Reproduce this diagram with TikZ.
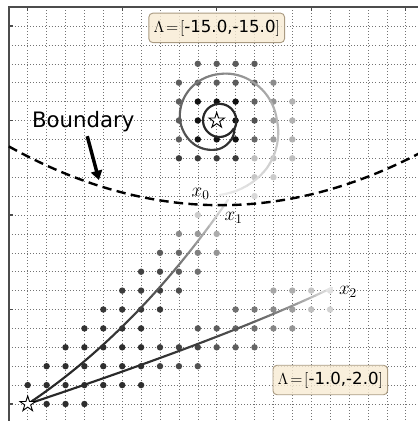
\documentclass[tikz,border=0pt]{standalone}
\usepackage{fontspec}
\newfontfamily\dvs{DejaVu Sans}
\usetikzlibrary{shapes.geometric,arrows.meta,calc}
\begin{document}
\begin{tikzpicture}[x=0.5cm,y=0.5cm,
  gridline/.style={black!55, line width=0.35pt, dash pattern=on 0.45pt off 1.85pt},
  spine/.style={black!70, line width=1.1pt},
  tickm/.style={black!70, line width=0.8pt},
  trail/.style={line width=1.6pt, line cap=round},
  starm/.style={star, star points=5, star point ratio=2.6, minimum size=0.43cm, inner sep=0pt, draw=black, fill=white, line width=0.7pt},
  lambox/.style={draw={rgb,255:red,170;green,155;blue,130}, fill={rgb,255:red,248;green,236;blue,212}, fill opacity=0.8, text opacity=1, rounded corners=3pt, line width=0.7pt, inner xsep=3.5pt, minimum height=0.78cm, font=\fontsize{12.5}{14}\selectfont},
  boundary/.style={black, line width=1.8pt, dash pattern=on 7pt off 4pt},
  xlab/.style={font=\fontsize{14}{14}\selectfont, inner sep=0pt}
]
\useasboundingbox (-1.466,-0.899) rectangle (20.60,21.376);
\fill[white] (-1.466,-0.899) rectangle (20.60,21.376);
% grid
\foreach \i in {0,...,20} \draw[gridline] (\i,-1) -- (\i,21);
\foreach \j in {0,...,20} \draw[gridline] (-1,\j) -- (21,\j);
% spines and ticks
\draw[spine] (-1,-1) -- (-1,21) -- (21,21);
\foreach \j in {0,5,...,20} \draw[tickm] (-1,\j) -- ++(0.22,0);
\foreach \i in {0,5,...,20} \draw[tickm] (\i,21) -- ++(0,-0.22);
% label boxes
\node[lambox] (lamtop) at (10.0,19.9) {$\Lambda\mkern2mu{=}\mkern2mu[$\dvs-15.0,-15.0$]$};
\node[lambox] (lambot) at (16.01,1.27) {$\Lambda\mkern2mu{=}\mkern2mu[$\dvs-1.0,-2.0$]$};
% dots
\foreach \i/\j/\p in {
 1/0/82,2/0/82,3/0/82,
 0/1/82,1/1/82,2/1/82,3/1/82,4/1/82,5/1/82,6/1/82,
 1/2/82,2/2/82,3/2/82,4/2/82,5/2/82,6/2/82,7/2/75,8/2/72,9/2/68,
 2/3/82,3/3/82,4/3/82,5/3/82,6/3/82,7/3/76,8/3/74,9/3/72,10/3/66,11/3/63,12/3/60,
 3/4/80,4/4/80,5/4/80,6/4/80,9/4/66,10/4/63,11/4/60,12/4/56,13/4/48,14/4/42,
 4/5/78,5/5/78,6/5/78,7/5/78,11/5/56,12/5/53,13/5/46,14/5/38,15/5/25,16/5/18,
 5/6/76,6/6/76,7/6/76,8/6/70,13/6/35,14/6/32,15/6/22,16/6/12,
 6/7/74,7/7/72,8/7/64,9/7/56,
 7/8/64,8/8/60,9/8/50,10/8/42,
 8/9/46,9/9/40,10/9/32,
 9/10/20,
 12/11/15,
 12/12/22,13/12/20,
 8/13/76,9/13/76,10/13/76,11/13/76,12/13/25,13/13/25,14/13/25,
 8/14/64,9/14/93,10/14/93,11/14/93,12/14/60,13/14/38,14/14/30,
 8/15/64,9/15/93,11/15/93,12/15/68,13/15/38,14/15/30,
 8/16/64,9/16/93,10/16/93,11/16/93,12/16/62,13/16/42,14/16/30,
 8/17/64,9/17/64,10/17/64,11/17/64,12/17/62,13/17/45,
 9/18/64,10/18/64,11/18/64,12/18/64}
 \fill[black!\p] (\i,\j) circle[radius=0.17];
% spiral trail (ends at x0)
\begin{scope}[shift={(10.15,15)}]
\foreach \ta/\ra/\tb/\rb in {330/.86/270/.87, 270/.87/210/.87, 210/.87/150/.88, 150/.88/90/.88, 90/.88/30/.88, 30/.88/-30/.9, -30/.9/-90/1.5, -90/1.5/-135/1.83, -135/1.83/-180/2.09, -180/2.09/-225/2.28, -225/2.28/-270/2.46, -270/2.46/-315/2.72, -315/2.72/-360/3.04, -360/3.04/-405/3.55, -405/3.55/-450/3.94}{
  \foreach \k in {0,...,9}{
    \pgfmathsetmacro\tA{\ta+(\tb-\ta)*\k/10}
    \pgfmathsetmacro\rA{\ra+(\rb-\ra)*\k/10}
    \pgfmathsetmacro\tB{\ta+(\tb-\ta)*(\k+1)/10}
    \pgfmathsetmacro\rB{\ra+(\rb-\ra)*(\k+1)/10}
    \pgfmathsetmacro\q{max(0.0001,(-30-\tA)/420)}
    \pgfmathtruncatemacro\p{85-78*\q^1.3}
    \draw[trail,black!\p] (\tA:\rA) -- (\tB:\rB);
  }}
\end{scope}
% trail to x1
\foreach \k in {0,...,39}{
  \pgfmathsetmacro\ta{\k/40}
  \pgfmathsetmacro\tb{(\k+1)/40}
  \pgfmathsetmacro\xa{2*\ta*(1-\ta)*5.77+\ta*\ta*10.6}
  \pgfmathsetmacro\ya{2*\ta*(1-\ta)*3.85+\ta*\ta*10.8}
  \pgfmathsetmacro\xb{2*\tb*(1-\tb)*5.77+\tb*\tb*10.6}
  \pgfmathsetmacro\yb{2*\tb*(1-\tb)*3.85+\tb*\tb*10.8}
  \pgfmathtruncatemacro\p{85-80*\ta^3}
  \draw[trail,black!\p] (\xa,\ya) -- (\xb,\yb);
}
% trail to x2
\foreach \k in {0,...,39}{
  \pgfmathsetmacro\ta{\k/40}
  \pgfmathsetmacro\tb{(\k+1)/40}
  \pgfmathsetmacro\xa{2*\ta*(1-\ta)*10.65+\ta*\ta*16.1}
  \pgfmathsetmacro\ya{2*\ta*(1-\ta)*3.55+\ta*\ta*6.15}
  \pgfmathsetmacro\xb{2*\tb*(1-\tb)*10.65+\tb*\tb*16.1}
  \pgfmathsetmacro\yb{2*\tb*(1-\tb)*3.55+\tb*\tb*6.15}
  \pgfmathtruncatemacro\p{85-80*\ta^3}
  \draw[trail,black!\p] (\xa,\ya) -- (\xb,\yb);
}
% boundary
\draw[boundary] plot[domain=-1:20.7, samples=90] (\x,{10.52+0.0248*(\x-10.2)*(\x-10.2)});
% stars
\node[starm] (s1) at (10,15) {};
\node[starm] (s0) at (0,0) {};
% labels
\node[xlab] (lx0) at (9.15,11.1) {$x_0$};
\node[xlab] (lx1) at (10.9,9.84) {$x_1$};
\node[xlab] (lx2) at (16.95,5.94) {$x_2$};
\node[font=\dvs\fontsize{16}{18}\selectfont, anchor=base, inner sep=0pt] (btext) at (2.94,14.64) {Boundary};
\coordinate (bs) at (3.15,14.17);
\coordinate (bt) at (3.77,11.85);
\draw[-{Triangle[length=7pt,width=8.5pt]}, line width=2.6pt, black] (bs) -- (bt);
\end{tikzpicture}
\end{document}
